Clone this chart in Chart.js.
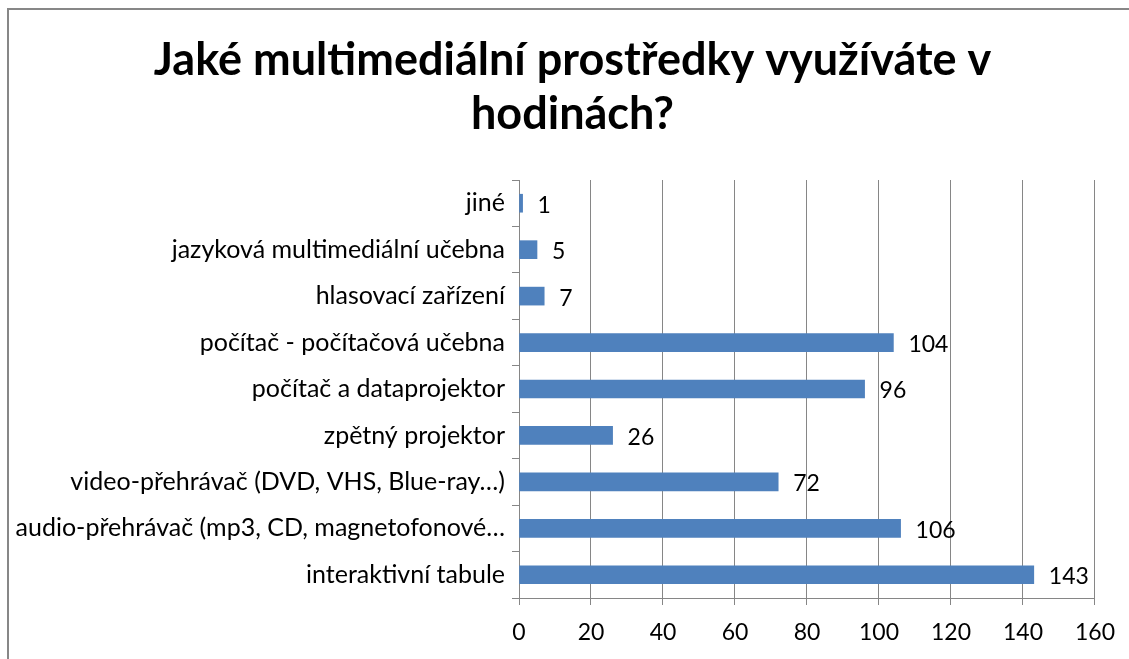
<!DOCTYPE html>
<html>
<head>
<meta charset="utf-8">
<script src="https://cdn.jsdelivr.net/npm/chart.js@4/dist/chart.umd.min.js"></script>
<style>
  html, body { margin: 0; padding: 0; background: #fff; }
  #wrap { width: 1129px; height: 659px; }
</style>
</head>
<body>
<div id="wrap"><canvas id="myChart" width="1129" height="659"></canvas></div>
<script>
var ctx = document.getElementById('myChart');

var categories = [
  'jiné',
  'jazyková multimediální učebna',
  'hlasovací zařízení',
  'počítač - počítačová učebna',
  'počítač a dataprojektor',
  'zpětný projektor',
  'video-přehrávač (DVD, VHS, Blue-ray…)',
  'audio-přehrávač (mp3, CD, magnetofonové…',
  'interaktivní tabule'
];
var counts = [1, 5, 7, 104, 96, 26, 72, 106, 143];
var titleLines = ['Jaké multimediální prostředky využíváte v', 'hodinách?'];

var FONT = 'Lato';
var gridGray = '#868686';

// labels with the value next to each bar
var valueLabels = {
  id: 'valueLabels',
  afterDatasetsDraw: function(chart) {
    var c = chart.ctx;
    var meta = chart.getDatasetMeta(0);
    c.save();
    c.font = '23px ' + FONT;
    c.fillStyle = '#000';
    c.textAlign = 'left';
    c.textBaseline = 'middle';
    meta.data.forEach(function(bar, i) {
      c.fillText(String(counts[i]), bar.x + 15, bar.y + 2);
    });
    c.restore();
  }
};

// the grey frame, only its top and left sides are in the picture
var frame = {
  id: 'frame',
  beforeDraw: function(chart) {
    var c = chart.ctx;
    c.save();
    c.strokeStyle = '#878787';
    c.lineWidth = 2;
    c.beginPath();
    c.moveTo(8, 659);
    c.lineTo(8, 9);
    c.lineTo(1129, 9);
    c.stroke();
    c.restore();
  }
};

// the long category label needs the room left of the padding,
// otherwise the scale clips it
var widenLabelArea = {
  id: 'widenLabelArea',
  afterLayout: function(chart) {
    chart.scales.y.left = 0;
  }
};

var myChart = new Chart(ctx, {
  type: 'bar',
  data: {
    labels: categories,
    datasets: [{
      label: 'počet',
      data: counts,
      backgroundColor: '#4F81BD',
      borderWidth: 0,
      barThickness: 18
    }]
  },
  options: {
    indexAxis: 'y',
    responsive: false,
    animation: false,
    // left padding a bit bigger so the title sits where the original does
    layout: { padding: { left: 50, right: 34, top: 0, bottom: 0 } },
    plugins: {
      legend: { display: false },
      tooltip: { enabled: false },
      title: {
        display: true,
        text: titleLines,
        color: '#000',
        font: { family: FONT, size: 45, weight: 'bold', lineHeight: 1.2 },
        padding: { top: 33, bottom: 39 }
      }
    },
    scales: {
      x: {
        min: 0,
        max: 160,
        ticks: { stepSize: 20, color: '#000', font: { family: FONT, size: 23 }, padding: 14 },
        grid: { color: gridGray, lineWidth: 1, tickLength: 7 },
        border: { color: gridGray, width: 1 },
        afterFit: function(scale) { scale.height = 61; }
      },
      y: {
        ticks: { color: '#000', font: { family: FONT, size: 25 }, padding: 7, autoSkip: false },
        grid: { offset: true, drawOnChartArea: false, color: gridGray, tickLength: 7 },
        border: { color: gridGray, width: 1 },
        afterFit: function(scale) { scale.width = 469; }
      }
    }
  },
  plugins: [frame, widenLabelArea, valueLabels]
});
</script>
</body>
</html>
